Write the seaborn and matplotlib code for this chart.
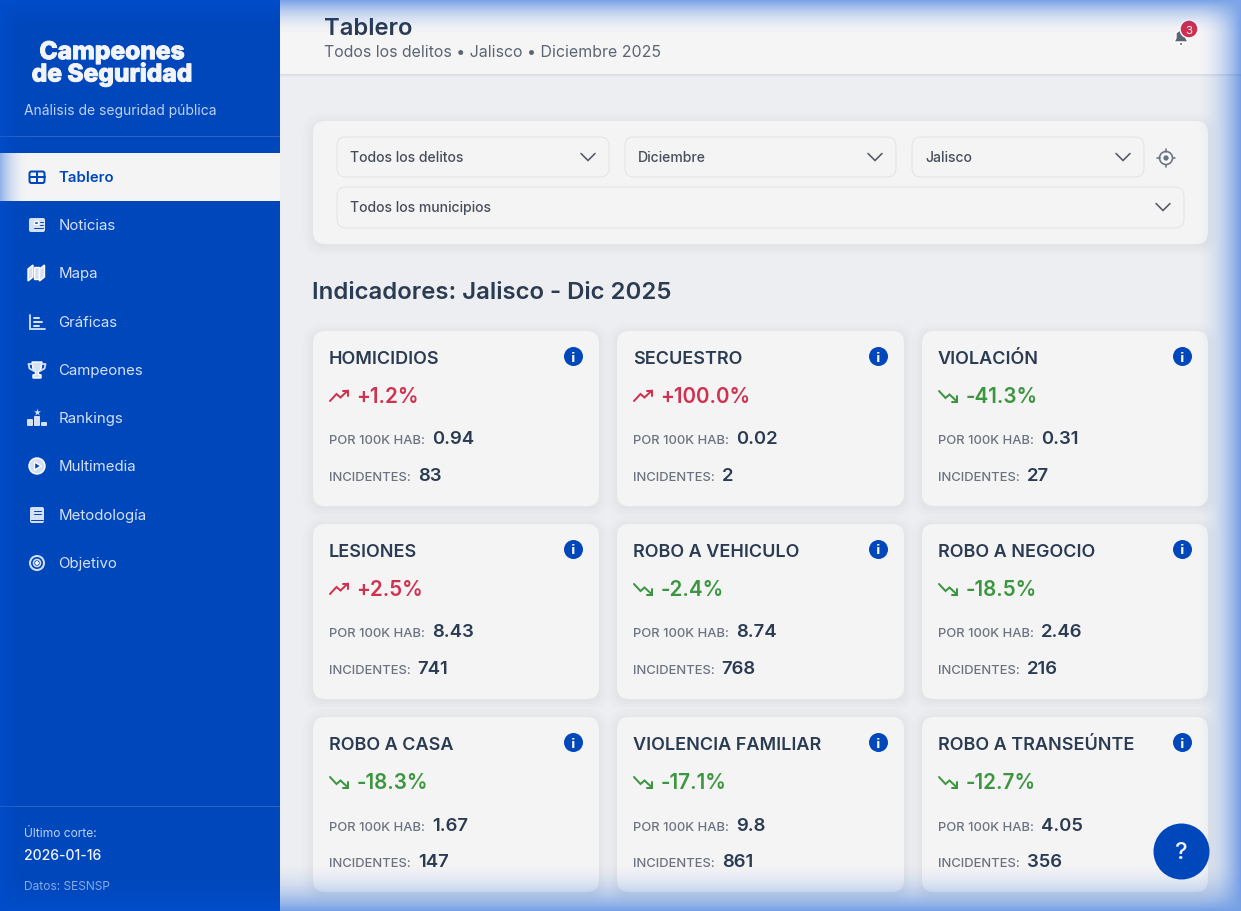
import numpy as np
import pandas as pd
import seaborn as sns
import matplotlib.pyplot as plt
import matplotlib.patheffects as pe
from matplotlib.patches import FancyBboxPatch, Rectangle, Circle, Polygon

# datos del tablero
delitos = ['HOMICIDIOS', 'SECUESTRO', 'VIOLACIÓN', 'LESIONES', 'ROBO A VEHICULO', 'ROBO A NEGOCIO',
           'ROBO A CASA', 'VIOLENCIA FAMILIAR', 'ROBO A TRANSEÚNTE']
cambio = [1.2, 100.0, -41.3, 2.5, -2.4, -18.5, -18.3, -17.1, -12.7]
por_100k = ['0.94', '0.02', '0.31', '8.43', '8.74', '2.46', '1.67', '9.8', '4.05']
incidentes = [83, 2, 27, 741, 768, 216, 147, 861, 356]
menu = ['Tablero', 'Noticias', 'Mapa', 'Gráficas', 'Campeones', 'Rankings', 'Multimedia', 'Metodología', 'Objetivo']
filtros = ['Todos los delitos', 'Diciembre', 'Jalisco', 'Todos los municipios']

AZUL = '#0047BB'
TINTA = '#2A3B52'
GRIS = '#6B7280'
ROJO = '#D0314F'
VERDE = '#3B963F'
CARD = '#F4F4F5'
FONDO = '#ECEEF1'
MENU_TXT = '#D6E0F5'

sns.set_theme(style='white')
plt.rcParams['font.family'] = ['Inter', 'DejaVu Sans']

fig = plt.figure(figsize=(12.41, 9.11), dpi=100, facecolor=FONDO)
ax = fig.add_axes([0, 0, 1, 1])
ax.set_xlim(0, 1241)
ax.set_ylim(911, 0)
ax.axis('off')


def px(n):
    return n * 72 / 100


def txt(x, y, s, size, color=TINTA, weight='normal', **kw):
    kw.setdefault('va', 'baseline')
    return ax.text(x, y, s, fontsize=px(size), color=color, fontweight=weight, zorder=kw.pop('zorder', 10), **kw)


def caja(x0, y0, x1, y1, r, fc, ec='none', lw=0, z=3, alpha=1):
    p = FancyBboxPatch((x0 + r, y0 + r), x1 - x0 - 2 * r, y1 - y0 - 2 * r, boxstyle=f'round,pad={r},rounding_size={r}',
                       fc=fc, ec=ec, lw=lw, zorder=z, alpha=alpha, mutation_aspect=1)
    ax.add_patch(p)


def sombra(x0, y0, x1, y1, r):
    for g in [10, 7, 5, 3, 1]:
        caja(x0 - g, y0 - g + 2, x1 + g, y1 + g + 2, r + g, '#9AA3B2', z=2, alpha=0.022)
    caja(x0, y0, x1, y1, r, CARD, z=3)


def linea(xs, ys, color, lw=1.5, z=8):
    ax.plot(xs, ys, color=color, lw=px(lw), zorder=z, solid_capstyle='round', solid_joinstyle='miter')


# barra lateral
ax.add_patch(Rectangle((0, 0), 280, 911, fc=AZUL, ec='none', zorder=1))
ax.add_patch(Rectangle((0, 153), 280, 48, fc=CARD, ec='none', zorder=2))
ax.add_patch(Rectangle((0, 136), 280, 1, fc='#2A62C6', ec='none', zorder=2))
ax.add_patch(Rectangle((0, 806), 280, 1, fc='#2A62C6', ec='none', zorder=2))
logo = txt(112, 81.5, 'Campeones\nde Seguridad', 24.5, '#F2F4FA', 'heavy', ha='center', linespacing=0.87,
           multialignment='center')
logo.set_path_effects([pe.withStroke(linewidth=0.7, foreground='#F2F4FA')])
txt(24, 115, 'Análisis de seguridad pública', 13.85, '#BFD0F0')
txt(24, 837, 'Último corte:', 12, '#BFD0F0')
txt(24, 860, '2026-01-16', 14, '#F2F4FA', 'medium')
txt(24, 890, 'Datos: SESNSP', 12, '#9DB6E6')

menu_y = [177, 225, 273, 322, 370, 418, 466, 515, 563]
for nombre, y in zip(menu, menu_y):
    activo = nombre == 'Tablero'
    x_txt = 59 if nombre in ('Noticias', 'Mapa', 'Rankings', 'Multimedia', 'Metodología') else 58.3
    txt(x_txt, y + 5, nombre, 15, AZUL if activo else MENU_TXT, 'semibold' if activo else 'normal')


def ico_tablero(y, c):
    caja(29.5, y - 5.5, 44.5, y + 6, 2, 'none', c, px(2), z=8)
    linea([29.5, 44.5], [y, y], c, 2)
    linea([37, 37], [y - 5.5, y + 6], c, 2)


def ico_noticias(y, c):
    caja(29, y - 7, 45, y + 7, 2, c, z=8)
    ax.add_patch(Rectangle((34, y - 4), 4, 3, fc=AZUL, zorder=9))
    for d in (-3, 0, 3):
        linea([39.5 if d < 1 else 34, 42.5], [y + d, y + d], AZUL, 1, z=9)


def ico_mapa(y, c):
    for x0, d in ((28, 1), (33.5, -1), (39.5, 1)):
        ax.add_patch(Polygon([(x0, y - 5 + d), (x0 + 5, y - 7 - d), (x0 + 5, y + 5 - d), (x0, y + 7 + d)], fc=c, zorder=8))


def ico_graficas(y, c):
    linea([30, 30, 44.5], [y - 7, y + 7, y + 7], c, 1.8)
    linea([33.5, 38.5], [y - 4, y - 4], c, 2)
    linea([33.5, 42], [y, y], c, 2)
    linea([33.5, 39], [y + 3.5, y + 3.5], c, 2)


def ico_trofeo(y, c):
    ax.add_patch(Polygon([(32, y - 8), (42, y - 8), (41, y - 1), (38.5, y + 2), (38.5, y + 4.5), (41, y + 5), (41, y + 8),
                          (33, y + 8), (33, y + 5), (35.5, y + 4.5), (35.5, y + 2), (33, y - 1)], fc=c, zorder=8))
    ax.plot([32, 28.5, 29.5, 34], [y - 6, y - 6, y - 1.5, y + 1], color=c, lw=px(1.8), zorder=8)
    ax.plot([42, 45.5, 44.5, 40], [y - 6, y - 6, y - 1.5, y + 1], color=c, lw=px(1.8), zorder=8)


def ico_rankings(y, c):
    caja(27, y + 1, 33, y + 8, 1, c, z=8)
    caja(34, y - 2, 40, y + 8, 1, c, z=8)
    caja(41, y + 4, 47, y + 8, 1, c, z=8)
    ax.scatter([37], [y - 6.5], marker='*', s=28, color=c, lw=0, zorder=8)


def ico_multimedia(y, c):
    ax.add_patch(Circle((37, y), 8, fc=c, zorder=8))
    ax.add_patch(Polygon([(34.5, y - 4), (34.5, y + 4), (41, y)], fc=AZUL, zorder=9))


def ico_metodologia(y, c):
    caja(30, y - 8, 44, y + 8, 2, c, z=8)
    linea([34, 41], [y - 4, y - 4], AZUL, 1, z=9)
    linea([34, 41], [y - 1, y - 1], AZUL, 1, z=9)
    linea([31, 43], [y + 4.5, y + 4.5], AZUL, 1, z=9)


def ico_objetivo(y, c):
    ax.add_patch(Circle((37, y), 7, fc='none', ec=c, lw=px(2), zorder=8))
    ax.add_patch(Circle((37, y), 3.5, fc='none', ec=c, lw=px(1.6), zorder=8))
    ax.add_patch(Circle((37, y), 1.2, fc=c, zorder=8))


iconos = [ico_tablero, ico_noticias, ico_mapa, ico_graficas, ico_trofeo, ico_rankings, ico_multimedia,
          ico_metodologia, ico_objetivo]
for i, (f, y) in enumerate(zip(iconos, menu_y)):
    f(y, AZUL if i == 0 else MENU_TXT)

# encabezado
ax.add_patch(Rectangle((280, 0), 961, 74, fc='#F5F5F6', ec='none', zorder=2))
for g, a in ((3, 0.05), (2, 0.06), (1, 0.08)):
    ax.add_patch(Rectangle((280, 74), 961, g, fc='#8A93A3', ec='none', alpha=a, zorder=2))
txt(324, 35, 'Tablero', 23.8, TINTA, 'semibold')
txt(324, 57, 'Todos los delitos • Jalisco • Diciembre 2025', 15.9, '#5B6574')

ax.add_patch(Polygon([(1174, 42), (1176, 38), (1176, 33), (1181, 29), (1186, 33), (1186, 38), (1188, 42)], fc='#5B6574', zorder=8))
ax.add_patch(Circle((1181, 44), 1.7, fc='#5B6574', zorder=8))
ax.add_patch(Circle((1189, 29), 9, fc='#D02F50', zorder=9))
txt(1189, 29.5, '3', 11.5, '#F7F7F7', ha='center', va='center_baseline', zorder=10)

# filtros
sombra(313, 121, 1208, 244, 12)
selects = [(337, 137, 609, 177), (625, 137, 896, 177), (912, 137, 1144, 177), (337, 187, 1184, 228)]
for nombre, (x0, y0, x1, y1) in zip(filtros, selects):
    caja(x0, y0, x1, y1, 9, CARD, '#E2E3E6', 0.7, z=4)
    ym = (y0 + y1) // 2
    txt(x0 + 13, ym + 5, nombre, 14, '#464E5B', 'medium')
    linea([x1 - 28, x1 - 21, x1 - 14], [ym - 3.5, ym + 3.5, ym - 3.5], '#555A63', 1.6)
ax.add_patch(Circle((1166, 158), 6.5, fc='none', ec='#6B7280', lw=px(1.6), zorder=8))
ax.add_patch(Circle((1166, 158), 3.4, fc='#6B7280', zorder=8))
for dx, dy in ((0, -1), (0, 1), (-1, 0), (1, 0)):
    linea([1166 + dx * 6.5, 1166 + dx * 9], [158 + dy * 6.5, 158 + dy * 9], '#6B7280', 1.6)

txt(312, 299, 'Indicadores: Jalisco - Dic 2025', 24, TINTA, 'semibold')

# tarjetas
col_x = [313, 617, 922]
col_x1 = [599, 904, 1208]
fila_y = [331, 524, 717]
registros = []
for i in range(len(delitos)):
    c, f = i % 3, i // 3
    x0, y0 = col_x[c], fila_y[f]
    x1, y1 = col_x1[c], y0 + 175
    sombra(x0, y0, x1, y1, 12)
    tx = x0 + 16
    txt(tx, y0 + 33, delitos[i], 18, TINTA, 'semibold')
    sube = cambio[i] > 0
    color = ROJO if sube else VERDE
    etiqueta = f'{cambio[i]:+.1f}%'
    txt(tx + 27.5, y0 + 72, etiqueta, 20.6, color, 'semibold')
    # flecha de tendencia
    yb = y0 + 65
    s = -1 if sube else 1
    linea([tx + 1, tx + 7.5, tx + 11.5, tx + 19], [yb - s * 5, yb + s * 2, yb - s * 1.5, yb + s * 5.5], color, 2)
    linea([tx + 13.5, tx + 19, tx + 19], [yb + s * 5.5, yb + s * 5.5, yb], color, 2)

    y_por = y0 + (114 if f == 2 else 113)
    lab = txt(tx, y_por, 'POR 100K HAB:', 13, GRIS, 'medium')
    w = lab.get_window_extent(fig.canvas.get_renderer()).x1
    txt(w + 7, y_por, por_100k[i], 18.5, TINTA, 'semibold')
    lab = txt(tx, y0 + 150, 'INCIDENTES:', 13, GRIS, 'medium')
    w = lab.get_window_extent(fig.canvas.get_renderer()).x1
    txt(w + 7, y0 + 150, str(incidentes[i]), 18.5, TINTA, 'semibold')
    registros.append({'x': x1 - 26, 'y': y0 + 25})

df_info = pd.DataFrame(registros)
sns.scatterplot(data=df_info, x='x', y='y', s=187, color=AZUL, linewidth=0, zorder=8, ax=ax, legend=False)
for _, r in df_info.iterrows():
    txt(r['x'], r['y'] + 0.5, 'i', 13, '#F4F4F5', 'bold', ha='center', va='center_baseline',
        family='DejaVu Sans')

# brillo azul en los bordes
h, w = 911, 1241
yy, xx = np.mgrid[0:h, 0:w]
izq = 0.8 * np.clip(1 - xx / 28.0, 0, 1) ** 2
der = np.clip(1 - (w - 1 - xx) / 45.0, 0, 1) ** 2
arr = np.clip(1 - yy / 36.0, 0, 1) ** 2
aba = np.clip(1 - (h - 1 - yy) / 50.0, 0, 1) ** 2
a = 1 - (1 - izq) * (1 - der) * (1 - arr) * (1 - aba)
capa = np.zeros((h, w, 4))
capa[..., 0] = 0 / 255
capa[..., 1] = 82 / 255
capa[..., 2] = 217 / 255
capa[..., 3] = a * 0.5
ax.imshow(capa, extent=(0, w, h, 0), aspect='auto', zorder=50, interpolation='nearest')
ax.set_xlim(0, 1241)
ax.set_ylim(911, 0)

# boton de ayuda
sns.scatterplot(x=[1181], y=[851], s=1625, color=AZUL, linewidth=0, zorder=60, ax=ax, legend=False)
txt(1181, 859, '?', 24, '#F4F4F5', 'medium', ha='center', zorder=61)
ax.set_xlabel('')
ax.set_ylabel('')

fig.savefig('out.png', dpi=100, facecolor=FONDO)
